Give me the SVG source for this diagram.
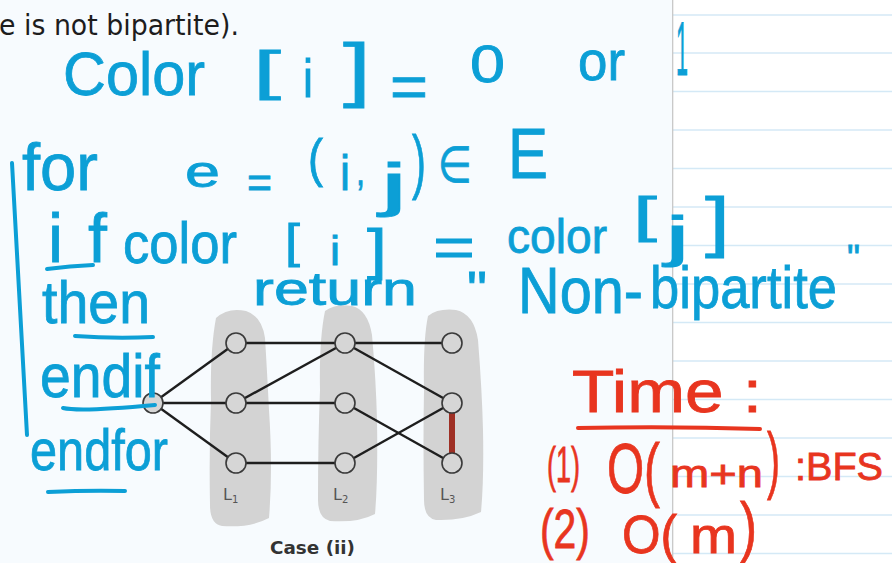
<svg xmlns="http://www.w3.org/2000/svg" width="892" height="563" viewBox="0 0 892 563">
<defs>
<style>
.hw{font-family:"Liberation Sans","DejaVu Sans",sans-serif;fill:#0c9fd6;stroke:#0c9fd6;stroke-width:0.8}
.rd{font-family:"Liberation Sans","DejaVu Sans",sans-serif;fill:#e8351f;stroke:#e8351f;stroke-width:0.8}
.bp{fill:none;stroke:#0c9fd6;stroke-width:4;stroke-linecap:round}
.rp{fill:none;stroke:#e8351f;stroke-width:4;stroke-linecap:round}
.rule{stroke:#d4e9f6;stroke-width:1.5}
.blob{fill:#d3d3d3}
.node circle{fill:#d6d6d6;stroke:#3a3a3a;stroke-width:1.6}
.edge{stroke:#1e1e1e;stroke-width:2.4;fill:none}
.lab{font-family:"DejaVu Sans","Liberation Sans",sans-serif;font-size:16px;fill:#555}
</style>
</defs>
<rect x="0" y="0" width="892" height="563" fill="#f7fbfe"/>
<rect x="673" y="0" width="219" height="563" fill="#ffffff"/>
<g id="rules">
<line class="rule" x1="673" y1="15" x2="892" y2="15"/>
<line class="rule" x1="673" y1="53" x2="892" y2="53"/>
<line class="rule" x1="673" y1="91.5" x2="892" y2="91.5"/>
<line class="rule" x1="673" y1="130" x2="892" y2="130"/>
<line class="rule" x1="673" y1="168.5" x2="892" y2="168.5"/>
<line class="rule" x1="673" y1="207" x2="892" y2="207"/>
<line class="rule" x1="673" y1="245.5" x2="892" y2="245.5"/>
<line class="rule" x1="673" y1="284" x2="892" y2="284"/>
<line class="rule" x1="673" y1="322.5" x2="892" y2="322.5"/>
<line class="rule" x1="673" y1="361" x2="892" y2="361"/>
<line class="rule" x1="673" y1="399.5" x2="892" y2="399.5"/>
<line class="rule" x1="673" y1="438" x2="892" y2="438"/>
<line class="rule" x1="673" y1="476.5" x2="892" y2="476.5"/>
<line class="rule" x1="673" y1="515" x2="892" y2="515"/>
<line class="rule" x1="673" y1="553.5" x2="892" y2="553.5"/>
<line x1="672.7" y1="0" x2="672.7" y2="563" stroke="#c4c4c4" stroke-width="1.2"/>
</g>
<text x="-1" y="35" font-family="DejaVu Sans, Liberation Sans, sans-serif" font-size="28" fill="#1d1d1d" textLength="240" lengthAdjust="spacingAndGlyphs">e is not bipartite).</text>

<g id="diagram">
<g id="layers">
<path class="blob" d="M216 318 Q228 307 246 311 Q262 316 265 338 Q267 370 269 410 Q273 470 269 518 Q250 528 222 526 Q210 524 210 505 Q209 450 211 400 Q210 350 216 318 Z"/>
<path class="blob" d="M325 311 Q336 303 352 306 Q368 310 372 335 Q376 380 377 420 Q378 480 375 514 Q358 523 330 521 Q318 518 318 500 Q318 440 320 390 Q319 340 325 311 Z"/>
<path class="blob" d="M428 316 Q438 308 456 310 Q474 314 478 340 Q482 390 483 430 Q484 480 481 512 Q462 521 436 520 Q424 518 424 500 Q423 440 424 390 Q423 340 428 316 Z"/>
</g>
<g id="connectors">
<line class="edge" x1="153" y1="403" x2="236" y2="343"/>
<line class="edge" x1="153" y1="403" x2="236" y2="403"/>
<line class="edge" x1="153" y1="403" x2="236" y2="463"/>
<line class="edge" x1="236" y1="343" x2="345" y2="343"/>
<line class="edge" x1="345" y1="343" x2="452" y2="343"/>
<line class="edge" x1="236" y1="403" x2="345" y2="343"/>
<line class="edge" x1="236" y1="403" x2="345" y2="403"/>
<line class="edge" x1="345" y1="343" x2="452" y2="403"/>
<line class="edge" x1="345" y1="403" x2="452" y2="463"/>
<line class="edge" x1="236" y1="463" x2="345" y2="463"/>
<line class="edge" x1="345" y1="463" x2="452" y2="403"/>
<line x1="452" y1="412" x2="452" y2="455" stroke="#9e2f24" stroke-width="6"/>
</g>
<g id="n-s" class="node"><circle cx="153" cy="403" r="10"/></g>
<g id="n-a1" class="node"><circle cx="236" cy="343" r="10"/></g>
<g id="n-a2" class="node"><circle cx="236" cy="403" r="10"/></g>
<g id="n-a3" class="node"><circle cx="236" cy="463" r="10"/></g>
<g id="n-b1" class="node"><circle cx="345" cy="343" r="10"/></g>
<g id="n-b2" class="node"><circle cx="345" cy="403" r="10"/></g>
<g id="n-b3" class="node"><circle cx="345" cy="463" r="10"/></g>
<g id="n-c1" class="node"><circle cx="452" cy="343" r="10"/></g>
<g id="n-c2" class="node"><circle cx="452" cy="403" r="10"/></g>
<g id="n-c3" class="node"><circle cx="452" cy="463" r="10"/></g>
<g id="labels">
<text class="lab" x="223" y="500">L<tspan font-size="10" dy="3">1</tspan></text>
<text class="lab" x="333" y="500">L<tspan font-size="10" dy="3">2</tspan></text>
<text class="lab" x="440" y="500">L<tspan font-size="10" dy="3">3</tspan></text>
<text x="270" y="554" font-family="DejaVu Sans, Liberation Sans, sans-serif" font-size="18" font-weight="bold" fill="#333" textLength="85" lengthAdjust="spacingAndGlyphs">Case (ii)</text>
</g>
</g>

<g id="blue-notes">
<text class="hw" x="63" y="95" font-size="62" textLength="142" lengthAdjust="spacingAndGlyphs">Color</text>
<text class="hw" x="253" y="89" font-size="54" textLength="28" lengthAdjust="spacingAndGlyphs">[</text>
<text class="hw" x="303" y="97" font-size="54" textLength="10" lengthAdjust="spacingAndGlyphs">i</text>
<text class="hw" x="343" y="93" font-size="70" textLength="28" lengthAdjust="spacingAndGlyphs">]</text>
<text class="hw" x="390" y="107" font-size="60" textLength="38" lengthAdjust="spacingAndGlyphs">=</text>
<text class="hw" x="470" y="82" font-size="52" textLength="35" lengthAdjust="spacingAndGlyphs">0</text>
<text class="hw" x="578" y="80" font-size="55" textLength="47" lengthAdjust="spacingAndGlyphs">or</text>
<text class="hw" x="676" y="75" font-size="76" textLength="12" lengthAdjust="spacingAndGlyphs">1</text>

<text class="hw" x="22" y="190" font-size="66" textLength="76" lengthAdjust="spacingAndGlyphs">for</text>
<text class="hw" x="185" y="187" font-size="44" textLength="35" lengthAdjust="spacingAndGlyphs">e</text>
<text class="hw" x="247" y="197" font-size="45" textLength="25" lengthAdjust="spacingAndGlyphs">=</text>
<text class="hw" x="308" y="176" font-size="52" textLength="15" lengthAdjust="spacingAndGlyphs">(</text>
<text class="hw" x="340" y="190" font-size="50" textLength="10" lengthAdjust="spacingAndGlyphs">i</text>
<text class="hw" x="356" y="185" font-size="40" textLength="9" lengthAdjust="spacingAndGlyphs">,</text>
<text class="hw" x="380" y="205" font-size="60" textLength="28" lengthAdjust="spacingAndGlyphs">j</text>
<text class="hw" x="412" y="185" font-size="71" textLength="14" lengthAdjust="spacingAndGlyphs">)</text>
<text class="hw" x="438" y="182" font-size="50" textLength="34" lengthAdjust="spacingAndGlyphs">∈</text>
<text class="hw" x="508" y="178" font-size="70" textLength="40" lengthAdjust="spacingAndGlyphs">E</text>

<text class="hw" x="48" y="262" font-size="68" textLength="59" lengthAdjust="spacing">if</text>
<text class="hw" x="123" y="263" font-size="58" textLength="114" lengthAdjust="spacingAndGlyphs">color</text>
<text class="hw" x="285" y="257" font-size="47" textLength="15" lengthAdjust="spacingAndGlyphs">[</text>
<text class="hw" x="330" y="265" font-size="40" textLength="10" lengthAdjust="spacingAndGlyphs">i</text>
<text class="hw" x="367" y="268" font-size="56" textLength="20" lengthAdjust="spacingAndGlyphs">]</text>
<text class="hw" x="433" y="266" font-size="55" textLength="42" lengthAdjust="spacingAndGlyphs">=</text>
<text class="hw" x="507" y="253" font-size="48" textLength="100" lengthAdjust="spacingAndGlyphs">color</text>
<text class="hw" x="633" y="232" font-size="50" textLength="24" lengthAdjust="spacingAndGlyphs">[</text>
<text class="hw" x="665" y="255" font-size="55" textLength="25" lengthAdjust="spacingAndGlyphs">j</text>
<text class="hw" x="705" y="244" font-size="66" textLength="25" lengthAdjust="spacingAndGlyphs">]</text>

<text class="hw" x="42" y="323" font-size="60" textLength="108" lengthAdjust="spacingAndGlyphs">then</text>
<text class="hw" x="253" y="305" font-size="46" textLength="164" lengthAdjust="spacingAndGlyphs">return</text>
<text class="hw" x="467" y="307" font-size="50" textLength="20" lengthAdjust="spacingAndGlyphs">"</text>
<text class="hw" x="518" y="313" font-size="64" textLength="125" lengthAdjust="spacingAndGlyphs">Non-</text>
<text class="hw" x="650" y="308" font-size="60" textLength="187" lengthAdjust="spacingAndGlyphs">bipartite</text>
<text class="hw" x="847" y="271" font-size="36" textLength="13" lengthAdjust="spacingAndGlyphs">"</text>

<text class="hw" x="40" y="397" font-size="62" textLength="120" lengthAdjust="spacingAndGlyphs">endif</text>
<text class="hw" x="30" y="470" font-size="57" textLength="138" lengthAdjust="spacingAndGlyphs">endfor</text>

<path class="bp" d="M12 163 Q20 300 27 435"/>
<path class="bp" d="M47 269 Q70 266 93 265"/>
<path class="bp" d="M75 336 Q115 339 153 337"/>
<path class="bp" d="M63 408 Q80 412 155 405"/>
<path class="bp" d="M48 492 Q90 490 125 491"/>
</g>

<g id="red-notes">
<text class="rd" x="572" y="412" font-size="60" textLength="190" lengthAdjust="spacingAndGlyphs">Time :</text>
<path class="rp" d="M578 428 Q670 426 760 429"/>
<text class="rd" x="547" y="482" font-size="50" textLength="33" lengthAdjust="spacingAndGlyphs">(1)</text>
<text class="rd" x="607" y="493" font-size="70" textLength="53" lengthAdjust="spacingAndGlyphs">O(</text>
<text class="rd" x="670" y="487" font-size="38" textLength="93" lengthAdjust="spacingAndGlyphs">m+n</text>
<text class="rd" x="767" y="485" font-size="74" textLength="13" lengthAdjust="spacingAndGlyphs">)</text>
<text class="rd" x="795" y="480" font-size="38" textLength="88" lengthAdjust="spacingAndGlyphs">:BFS</text>
<text class="rd" x="540" y="548" font-size="56" textLength="50" lengthAdjust="spacingAndGlyphs">(2)</text>
<text class="rd" x="622" y="553" font-size="54" textLength="55" lengthAdjust="spacingAndGlyphs">O(</text>
<text class="rd" x="690" y="553" font-size="50" textLength="47" lengthAdjust="spacingAndGlyphs">m</text>
<text class="rd" x="740" y="549" font-size="67" textLength="17" lengthAdjust="spacingAndGlyphs">)</text>
</g>
</svg>
